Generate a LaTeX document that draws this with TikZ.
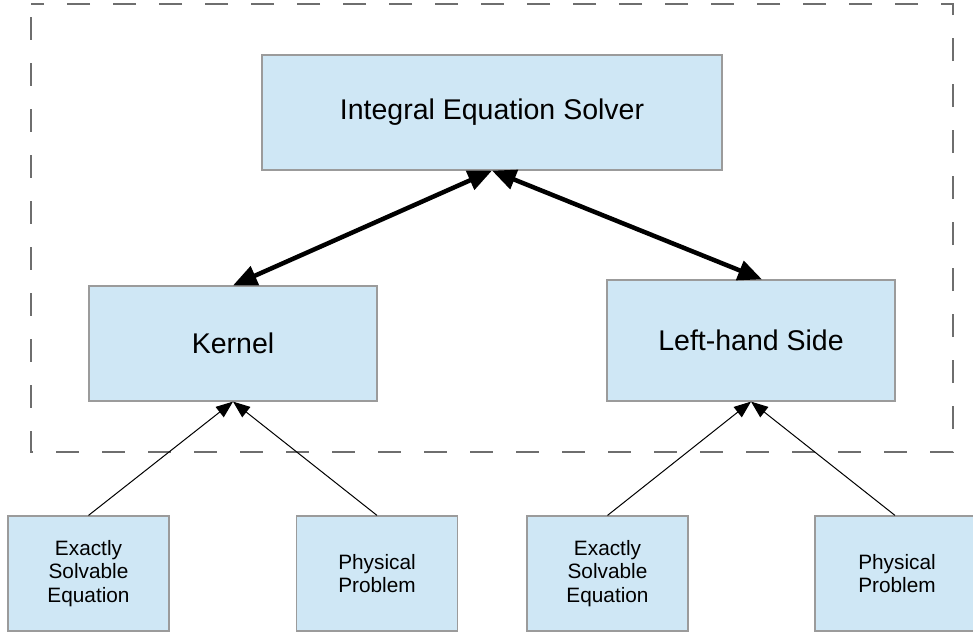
\documentclass[tikz,border=0pt]{standalone}
\usepackage{fontspec}
\setmainfont{Liberation Sans}
\usepackage{tikz}
\usetikzlibrary{arrows.meta}
\definecolor{boxfill}{RGB}{207,231,245}
\definecolor{boxline}{RGB}{155,155,155}
\definecolor{frameline}{RGB}{110,110,110}

\begin{document}
\begin{tikzpicture}[x=1pt,y=-1pt,
  box/.style={draw=boxline,fill=boxfill,line width=1.2pt,inner sep=0pt,align=center},
  bigbox/.style={box,minimum width=288pt,minimum height=115pt,font=\fontsize{28.5}{34}\selectfont},
  smallbox/.style={box,minimum width=161pt,minimum height=115pt,font=\fontsize{20.8}{23.5}\selectfont},
  link/.style={{Triangle[length=24pt,width=20pt]}-{Triangle[length=24pt,width=20pt]},line width=4.5pt},
  feed/.style={-{Triangle[length=17pt,width=13pt]},line width=1pt}]
  \useasboundingbox (0,0) rectangle (973,632);
  \draw[frameline,line width=1.5pt,dash pattern=on 23pt off 23pt,dash phase=33pt] (31,4) rectangle (953,452);
  \node[bigbox,minimum width=460pt] (solver) at (492,112.5) {Integral Equation Solver};
  \node[bigbox] (kernel) at (233,343.5) {Kernel};
  \node[bigbox,minimum height=121pt] (lhs) at (751,340.5) {Left-hand Side};
  \node[smallbox] (exact1) at (88.5,573.5) {Exactly\\Solvable\\Equation};
  \node[smallbox] (phys1) at (377,573.5) {Physical\\Problem};
  \node[smallbox] (exact2) at (607.5,573.5) {Exactly\\Solvable\\Equation};
  \node[smallbox,minimum width=170pt,text width=150pt] (phys2) at (900,573.5) {\hspace*{-6pt}Physical\\\hspace*{-6pt}Problem};
  \draw[link] (kernel.north) -- (solver.south);
  \draw[link] (solver.south) -- ([xshift=11pt]lhs.north);
  \draw[feed] (exact1.north) -- (kernel.south);
  \draw[feed] (phys1.north) -- (kernel.south);
  \draw[feed] (exact2.north) -- (lhs.south);
  \draw[feed] ([xshift=-5pt]phys2.north) -- (lhs.south);
\end{tikzpicture}
\end{document}
